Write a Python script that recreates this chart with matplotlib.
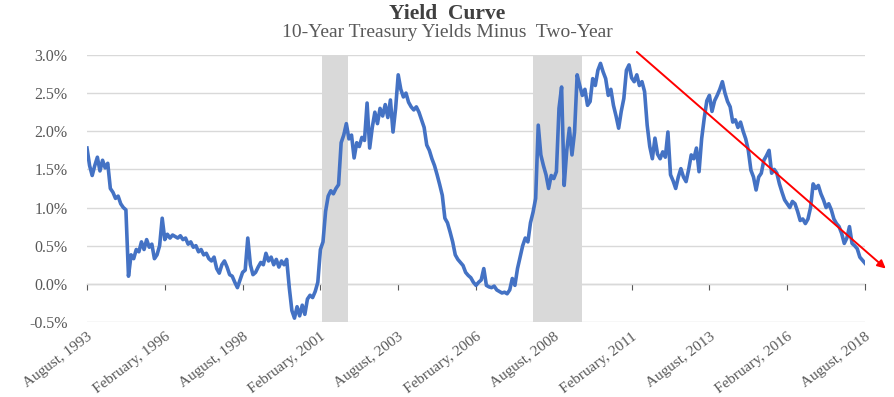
import numpy as np
import matplotlib
matplotlib.use("Agg")
import matplotlib.pyplot as plt
from matplotlib.ticker import FuncFormatter, MultipleLocator

# 10y - 2y spread (%), one value per month starting August 1993
spread = [
    1.78, 1.55, 1.42, 1.55, 1.66, 1.48, 1.62, 1.52, 1.58, 1.25,
    1.20, 1.12, 1.15, 1.05, 1.00, 0.97, 0.10, 0.38, 0.33, 0.45,
    0.42, 0.55, 0.45, 0.58, 0.48, 0.52, 0.33, 0.38, 0.50, 0.86,
    0.58, 0.65, 0.60, 0.64, 0.62, 0.60, 0.63, 0.58, 0.60, 0.52,
    0.55, 0.48, 0.50, 0.42, 0.45, 0.38, 0.40, 0.33, 0.30, 0.35,
    0.20, 0.14, 0.25, 0.30, 0.22, 0.12, 0.10, 0.02, -0.05, 0.05,
    0.15, 0.18, 0.60, 0.25, 0.12, 0.15, 0.22, 0.28, 0.25, 0.40,
    0.30, 0.35, 0.25, 0.32, 0.22, 0.30, 0.25, 0.32, -0.05, -0.35,
    -0.45, -0.30, -0.42, -0.28, -0.40, -0.20, -0.15, -0.18, -0.10, 0.02,
    0.45, 0.55, 0.95, 1.15, 1.22, 1.18, 1.25, 1.30, 1.85, 1.95,
    2.10, 1.90, 1.95, 1.65, 1.85, 1.80, 1.92, 1.88, 2.37, 1.78,
    2.05, 2.25, 2.10, 2.30, 2.20, 2.35, 2.18, 2.41, 1.99, 2.30,
    2.74, 2.55, 2.45, 2.50, 2.38, 2.32, 2.28, 2.32, 2.25, 2.15,
    2.05, 1.82, 1.75, 1.64, 1.55, 1.43, 1.30, 1.16, 0.86, 0.80,
    0.68, 0.55, 0.38, 0.32, 0.28, 0.24, 0.15, 0.11, 0.08, 0.02,
    -0.02, 0.02, 0.05, 0.20, -0.02, -0.04, -0.05, -0.03, -0.08, -0.10,
    -0.12, -0.11, -0.13, -0.08, 0.07, -0.02, 0.20, 0.35, 0.50, 0.60,
    0.55, 0.80, 0.94, 1.12, 2.08, 1.69, 1.55, 1.43, 1.25, 1.42,
    1.38, 1.47, 2.30, 2.58, 1.29, 1.75, 2.04, 1.69, 1.99, 2.74,
    2.60, 2.47, 2.55, 2.34, 2.39, 2.69, 2.60, 2.80, 2.89, 2.78,
    2.69, 2.47, 2.55, 2.34, 2.20, 2.04, 2.26, 2.43, 2.80, 2.87,
    2.70, 2.65, 2.74, 2.60, 2.65, 2.52, 2.08, 1.80, 1.64, 1.91,
    1.70, 1.64, 1.73, 1.66, 1.99, 1.43, 1.35, 1.25, 1.40, 1.51,
    1.40, 1.34, 1.50, 1.69, 1.64, 1.78, 1.47, 1.90, 2.17, 2.40,
    2.47, 2.26, 2.40, 2.47, 2.55, 2.65, 2.50, 2.39, 2.32, 2.12,
    2.15, 2.05, 2.12, 2.00, 1.90, 1.75, 1.49, 1.40, 1.23, 1.40,
    1.45, 1.62, 1.68, 1.75, 1.45, 1.50, 1.45, 1.31, 1.20, 1.10,
    1.05, 1.00, 1.08, 1.05, 0.95, 0.83, 0.85, 0.79, 0.85, 1.00,
    1.31, 1.25, 1.29, 1.18, 1.10, 1.00, 1.05, 0.97, 0.85, 0.79,
    0.75, 0.66, 0.53, 0.60, 0.75, 0.53, 0.50, 0.46, 0.35, 0.31,
    0.27,
]
months = np.arange(len(spread))  # months since August 1993

tick_months = [0, 30, 60, 90, 120, 150, 180, 210, 240, 270, 300]
tick_labels = ["August, 1993", "February, 1996", "August, 1998", "February, 2001",
               "August, 2003", "February, 2006", "August, 2008", "February, 2011",
               "August, 2013", "February, 2016", "August, 2018"]

# recessions (months since Aug 1993)
recessions = [(90.5, 100.5), (172, 191)]

# trend arrow
arrow_start = (212, 3.04)
arrow_end = (308, 0.20)

serif = "Liberation Serif"
grey = "#595959"

fig = plt.figure(figsize=(8.95, 3.97), dpi=100)
ax = fig.add_axes([0.0972, 0.189, 0.8693, 0.6725])

for a, b in recessions:
    ax.axvspan(a, b, color="#D9D9D9", lw=0, zorder=1)

ax.plot(months, spread, color="#4472C4", lw=2.6, zorder=3, solid_joinstyle="round")

ax.annotate("", xy=arrow_end, xytext=arrow_start,
            arrowprops=dict(arrowstyle="-|>", color="red", lw=1.4,
                            mutation_scale=12, shrinkA=0, shrinkB=0),
            annotation_clip=False, zorder=4)

ax.set_xlim(0, 300)
ax.set_ylim(-0.5, 3.0)
ax.yaxis.set_major_locator(MultipleLocator(0.5))
ax.yaxis.set_major_formatter(FuncFormatter(lambda v, p: f"{v:.1f}%"))
ax.grid(axis="y", color="#D9D9D9", lw=1, zorder=0)
for s in ax.spines.values():
    s.set_visible(False)

ax.set_xticks(tick_months)
ax.set_xticklabels(tick_labels, rotation=37, ha="right", rotation_mode="anchor",
                   fontfamily=serif, fontsize=11, color=grey)
ax.tick_params(axis="x", length=0, pad=6)
ax.tick_params(axis="y", length=0, pad=14, labelsize=11.5, labelcolor=grey)
for t in ax.get_yticklabels():
    t.set_fontfamily(serif)

# zero line with small tick marks
zero = ax.secondary_xaxis(0.5 / 3.5)
zero.set_xticks(tick_months)
zero.set_xticklabels([])
zero.tick_params(length=4, color="#595959")
zero.spines["bottom"].set_color("#595959")

fig.text(0.5, 0.965, "Yield  Curve", ha="center", va="center",
         fontfamily=serif, fontweight="bold", fontsize=15.5, color="#404040")
fig.text(0.5, 0.917, "10-Year Treasury Yields Minus  Two-Year", ha="center", va="center",
         fontfamily=serif, fontsize=14, color=grey)

fig.savefig("out.png", dpi=100)
